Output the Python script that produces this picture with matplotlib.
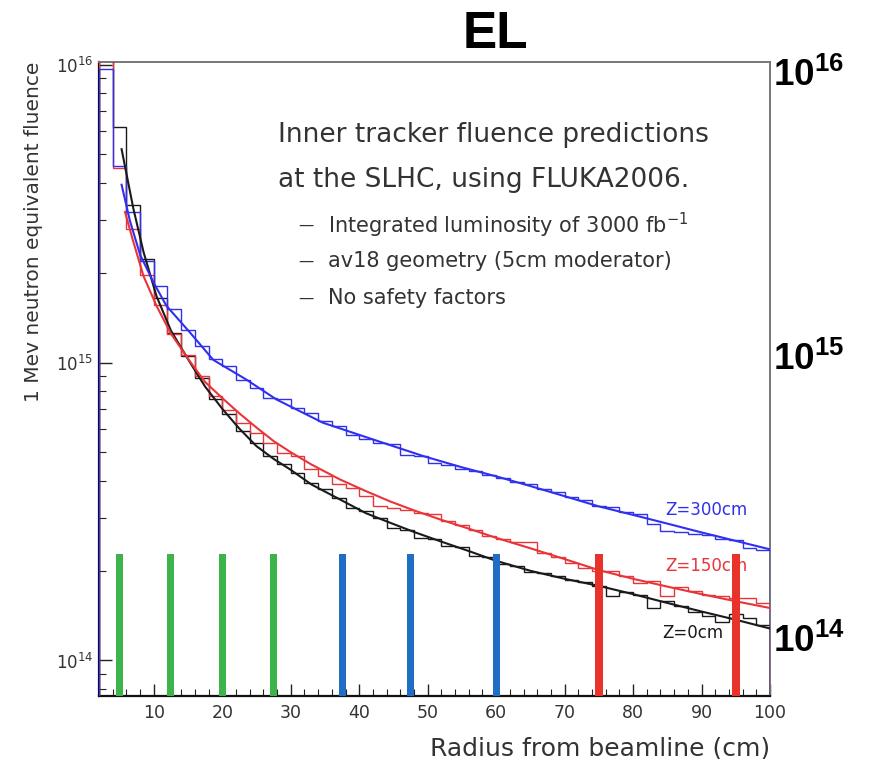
import numpy as np
import matplotlib
matplotlib.use("Agg")
import matplotlib.pyplot as plt
from matplotlib.ticker import LogLocator, MultipleLocator, NullFormatter

# ─── Data (fluence per 2 cm radius bin, units of 1e14) ────────────────────────
BIN_EDGES = list(range(2, 101, 2))

Z0_HIST = [105, 61.5, 33.7, 22.3, 16.5, 12.6, 10.5, 8.89, 7.52, 6.70,
           5.88, 5.38, 4.85, 4.55, 4.27, 3.95, 3.75, 3.52, 3.25, 3.17,
           3.01, 2.79, 2.75, 2.58, 2.55, 2.42, 2.40, 2.25, 2.22, 2.10,
           2.07, 1.98, 1.97, 1.92, 1.86, 1.83, 1.78, 1.65, 1.70, 1.66,
           1.50, 1.58, 1.52, 1.46, 1.41, 1.35, 1.43, 1.39, 1.32]
Z150_HIST = [105, 45.0, 28.0, 19.6, 15.6, 12.5, 10.6, 9.0, 7.71, 6.95,
             6.28, 5.81, 5.38, 4.98, 4.85, 4.38, 4.15, 3.90, 3.80, 3.56,
             3.30, 3.25, 3.21, 3.13, 3.10, 2.95, 2.85, 2.75, 2.62, 2.55,
             2.50, 2.50, 2.30, 2.22, 2.12, 2.05, 2.00, 2.00, 1.92, 1.82,
             1.85, 1.64, 1.76, 1.71, 1.66, 1.64, 1.62, 1.62, 1.56]
Z300_HIST = [97, 45.5, 31.9, 22.0, 18.1, 15.1, 12.9, 11.4, 10.3, 9.73,
             8.77, 8.22, 7.60, 7.52, 7.05, 6.78, 6.35, 6.11, 5.73, 5.52,
             5.38, 5.31, 4.91, 4.85, 4.60, 4.52, 4.40, 4.32, 4.20, 4.10,
             3.98, 3.90, 3.75, 3.68, 3.55, 3.45, 3.30, 3.28, 3.15, 3.11,
             2.88, 2.73, 2.70, 2.66, 2.63, 2.56, 2.53, 2.39, 2.34]

# smooth fit curves
Z0_FIT_R = [5.3, 7, 8.5, 10.4, 12.5, 15.3, 17.5, 20.1, 22.5, 25, 27.5, 29.9,
            33, 37.2, 41, 44.5, 48, 51.9, 56, 60, 65, 70, 75, 80, 85, 90, 95, 100]
Z0_FIT = [52, 33, 23.5, 16.7, 12.8, 10.0, 8.3, 6.95, 6.0, 5.24, 4.75, 4.38,
          3.9, 3.47, 3.12, 2.9, 2.7, 2.51, 2.33, 2.16, 2.0, 1.88, 1.78, 1.67,
          1.56, 1.46, 1.37, 1.28]
Z150_FIT_R = [5.8, 7, 8.5, 10.4, 12.5, 15.4, 17.5, 20, 22.5, 25, 27.5, 30,
              33, 37.2, 41, 44.5, 48, 51.9, 56, 60, 65, 70, 75, 80, 85, 90,
              95, 100]
Z150_FIT = [32, 25.5, 19.5, 15.5, 12.5, 10.0, 8.6, 7.6, 6.75, 6.05, 5.45, 5.0,
            4.55, 4.05, 3.7, 3.42, 3.19, 2.97, 2.77, 2.58, 2.38, 2.19, 2.01,
            1.88, 1.77, 1.67, 1.58, 1.50]
Z300_FIT_R = [5.3, 6.5, 8, 10, 11.85, 15.3, 18.7, 23.5, 27.9, 34.7, 42, 49.4,
              55, 60, 65, 70, 75, 80, 85, 90, 95, 100]
Z300_FIT = [39.5, 30, 23, 18.5, 15.5, 12.6, 10.2, 8.77, 7.52, 6.28, 5.52, 4.85,
            4.45, 4.15, 3.85, 3.56, 3.29, 3.08, 2.88, 2.69, 2.52, 2.36]

# detector layer positions (cm)
GREEN_LAYERS = [5, 12.5, 20, 27.5]
BLUE_LAYERS = [37.5, 47.5, 60]
RED_LAYERS = [75, 95]
LAYER_TOP = 2.27   # 1e14

UNIT = 1e14
GEO_FONT = ["DejaVu Sans"]
TXT = "#333333"

plt.rcParams["mathtext.fontset"] = "custom"
plt.rcParams["mathtext.bf"] = "Liberation Sans:bold"
plt.rcParams["mathtext.rm"] = "DejaVu Sans"
plt.rcParams["mathtext.default"] = "regular"

fig = plt.figure(figsize=(8.7, 7.59), dpi=100)
fig.patch.set_facecolor("white")
ax = fig.add_axes([0.1138, 0.083, 0.7713, 0.8353])

YMIN, YMAX = 7.6e13, 1.02e16
ax.set_yscale("log")
ax.set_xlim(2, 100)
ax.set_ylim(YMIN, YMAX)

# ── histograms + fits ─────────────────────────────────────────────────────────
series = [
    (Z0_HIST, Z0_FIT_R, Z0_FIT, "#1a1a1a"),
    (Z150_HIST, Z150_FIT_R, Z150_FIT, "#e8353a"),
    (Z300_HIST, Z300_FIT_R, Z300_FIT, "#3030ee"),
]
for hist, fr, fv, col in series:
    ax.stairs(np.array(hist) * UNIT, BIN_EDGES, baseline=1e13,
              color=col, lw=1.0, zorder=3)
    ax.plot(fr, np.array(fv) * UNIT, color=col, lw=1.5, zorder=4)

# ── layer bars ────────────────────────────────────────────────────────────────
for xs, col, w in [(GREEN_LAYERS, "#3cb44b", 1.0),
                   (BLUE_LAYERS, "#1f6dc4", 1.0),
                   (RED_LAYERS, "#e8322a", 1.25)]:
    ax.bar(xs, LAYER_TOP * UNIT - YMIN, bottom=YMIN, width=w,
           color=col, zorder=5)

# ── curve labels ──────────────────────────────────────────────────────────────
ax.text(84.7, 3.21e14, "Z=300cm", color="#3030ee", fontsize=12,
        va="center", family=GEO_FONT, zorder=6)
ax.text(84.7, 2.07e14, "Z=150cm", color="#e8353a", fontsize=12,
        va="center", family=GEO_FONT, zorder=4)
ax.text(84.2, 1.24e14, "Z=0cm", color="#1a1a1a", fontsize=12,
        va="center", family=GEO_FONT, zorder=6)

# ── description box text ──────────────────────────────────────────────────────
ax.text(0.267, 0.885, "Inner tracker fluence predictions", transform=ax.transAxes,
        fontsize=19, color=TXT, va="center", family=GEO_FONT)
ax.text(0.267, 0.814, "at the SLHC, using FLUKA2006.", transform=ax.transAxes,
        fontsize=19, color=TXT, va="center", family=GEO_FONT)
bullets = [r"Integrated luminosity of 3000 fb$^{-1}$",
           "av18 geometry (5cm moderator)",
           "No safety factors"]
for yy, b in zip([0.743, 0.686, 0.628], bullets):
    ax.text(0.297, yy, "—", transform=ax.transAxes, fontsize=11,
            color=TXT, va="center", family=GEO_FONT)
    ax.text(0.341, yy, b, transform=ax.transAxes, fontsize=15,
            color=TXT, va="center", family=GEO_FONT)

# ── axes styling (ROOT-like) ─────────────────────────────────────────────────
ax.xaxis.set_major_locator(MultipleLocator(10))
ax.xaxis.set_minor_locator(MultipleLocator(2))
ax.yaxis.set_major_locator(LogLocator(base=10, numticks=10))
ax.yaxis.set_minor_locator(LogLocator(base=10, subs=np.arange(2, 10), numticks=50))
ax.yaxis.set_minor_formatter(NullFormatter())
ax.tick_params(which="both", direction="in", top=False, right=False,
               colors="#222222", labelsize=12.5)
ax.tick_params(which="major", length=9, width=1.0)
ax.tick_params(which="minor", length=5, width=0.8)
ax.tick_params(axis="y", labelsize=12, pad=4)
ax.tick_params(axis="x", pad=6)
for lab in ax.get_xticklabels() + ax.get_yticklabels():
    lab.set_family(GEO_FONT)
    lab.set_color(TXT)

for side in ["left", "bottom"]:
    ax.spines[side].set_color("#111111")
    ax.spines[side].set_linewidth(1.6)
for side in ["top", "right"]:
    ax.spines[side].set_color("#777777")
    ax.spines[side].set_linewidth(1.4)

ax.set_xlabel("Radius from beamline (cm)", loc="right", fontsize=18,
              color=TXT, family=GEO_FONT, labelpad=10)
ax.set_ylabel("1 Mev neutron equivalent fluence", loc="top", fontsize=14.5,
              color=TXT, family=GEO_FONT)
ax.yaxis.set_label_coords(-0.083, 1.0)

# ── big annotations outside the frame ────────────────────────────────────────
for yy, e in [(0.901, 16), (0.526, 15), (0.155, 14)]:
    fig.text(0.889, yy, r"$\mathbf{10^{%d}}$" % e, fontsize=26.5,
             va="center", ha="left", color="black")
fig.text(0.570, 0.954, "EL", fontsize=37, fontweight="bold",
         family="Liberation Sans", ha="center", va="center")

fig.savefig("out.png", dpi=100)
